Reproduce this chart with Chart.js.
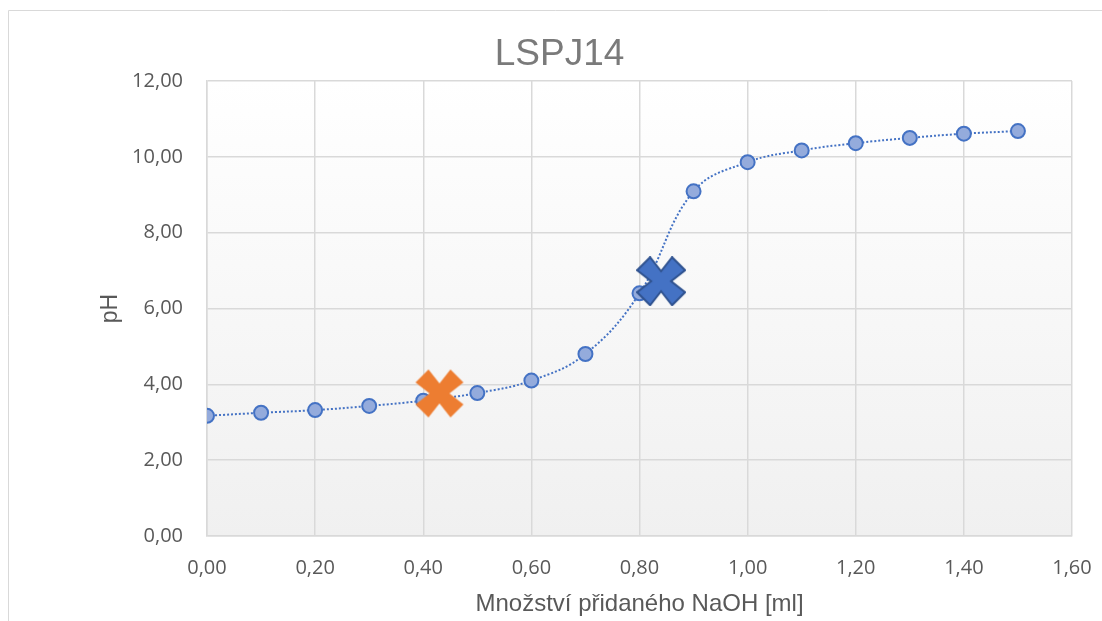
<!DOCTYPE html>
<html>
<head>
<meta charset="utf-8">
<title>LSPJ14</title>
<script src="https://cdn.jsdelivr.net/npm/chart.js@4/dist/chart.umd.min.js"></script>
<style>
    html, body { margin: 0; padding: 0; background: #fff; }
    canvas { display: block; }
</style>
</head>
<body>
<canvas id="titrationChart" width="1102" height="621"></canvas>
<script>
// Titration data: added NaOH [ml] vs pH
const naohVolume = [0.0, 0.1, 0.2, 0.3, 0.4, 0.5, 0.6, 0.7, 0.8, 0.9, 1.0, 1.1, 1.2, 1.3, 1.4, 1.5];
const phValues   = [3.17, 3.25, 3.32, 3.43, 3.57, 3.77, 4.10, 4.80, 6.40, 9.09, 9.86, 10.17, 10.36, 10.50, 10.61, 10.68];

// Highlighted points (half-equivalence and equivalence)
const halfEqPoint = { x: 0.43, y: 3.76 };
const eqPoint     = { x: 0.84, y: 6.72 };

const xTicks = [0, 0.2, 0.4, 0.6, 0.8, 1.0, 1.2, 1.4, 1.6];
const yTicks = [0, 2, 4, 6, 8, 10, 12];

const chartTitle = 'LSPJ14';

const fmt = v => Number(v).toFixed(2).replace('.', ',');
const TICK_FONT = '"Open Sans", "DejaVu Sans", sans-serif';
const TEXT_FONT = '"Liberation Sans", Arial, sans-serif';

// Thick filled X marker like the Excel one
function makeCross(fill, stroke) {
    const s = 50, m = 1, w = s - 2 * m, a = 13, n = 14;
    const c = document.createElement('canvas');
    c.width = s; c.height = s;
    const g = c.getContext('2d');
    const p = [[0, a], [a, 0], [w / 2, n], [w - a, 0], [w, a], [w - n, w / 2],
               [w, w - a], [w - a, w], [w / 2, w - n], [a, w], [0, w - a], [n, w / 2]];
    g.beginPath();
    p.forEach(([x, y], i) => i ? g.lineTo(x + m, y + m) : g.moveTo(x + m, y + m));
    g.closePath();
    g.fillStyle = fill;
    g.fill();
    if (stroke) {
        g.lineWidth = 2;
        g.strokeStyle = stroke;
        g.stroke();
    }
    return c;
}

// Frame, plot background gradient and the chart title
const backgroundPlugin = {
    id: 'backgroundPlugin',
    beforeDraw(chart) {
        const { ctx, chartArea: a } = chart;
        ctx.save();
        ctx.strokeStyle = '#d9d9d9';
        ctx.lineWidth = 1;
        ctx.beginPath();
        ctx.moveTo(8.5, 621);
        ctx.lineTo(8.5, 10.5);
        ctx.lineTo(1102, 10.5);
        ctx.stroke();
        const grad = ctx.createLinearGradient(0, a.top, 0, a.bottom);
        grad.addColorStop(0, '#ffffff');
        grad.addColorStop(1, '#f0f0f0');
        ctx.fillStyle = grad;
        ctx.fillRect(a.left, a.top, a.right - a.left, a.bottom - a.top);

        ctx.fillStyle = '#7a7a7a';
        ctx.font = '37px ' + TEXT_FONT;
        ctx.textAlign = 'center';
        ctx.textBaseline = 'alphabetic';
        ctx.fillText(chartTitle, 559.5, 65);
        ctx.restore();
    }
};

const ctx = document.getElementById('titrationChart').getContext('2d');
const chart = new Chart(ctx, {
    type: 'scatter',
    data: {
        datasets: [
            {
                label: 'eq',
                data: [eqPoint],
                pointStyle: makeCross('#4472c4', '#2f528f'),
                showLine: false
            },
            {
                label: 'half-eq',
                data: [halfEqPoint],
                pointStyle: makeCross('#ed7d31', null),
                showLine: false
            },
            {
                label: 'pH',
                data: naohVolume.map((v, i) => ({ x: v, y: phValues[i] })),
                showLine: true,
                borderColor: '#4472c4',
                borderWidth: 2,
                borderDash: [2, 2],
                tension: 0.4,
                pointRadius: 7,
                pointBorderWidth: 2,
                pointBackgroundColor: '#94abdc',
                pointBorderColor: '#4472c4'
            }
        ]
    },
    options: {
        responsive: false,
        animation: false,
        layout: { padding: { left: 8, right: 30, top: 81, bottom: 0 } },
        plugins: {
            legend: { display: false },
            tooltip: { enabled: false },
            title: { display: false }
        },
        scales: {
            x: {
                type: 'linear',
                min: 0,
                max: 1.6,
                afterBuildTicks: scale => { scale.ticks = xTicks.map(v => ({ value: v })); },
                afterFit: scale => { scale.height = 85; },
                // invisible tick marks push the labels down without widening the side padding
                grid: { color: '#d9d9d9', lineWidth: 1.5, drawTicks: true, tickLength: 13, tickColor: 'rgba(0,0,0,0)' },
                border: { color: '#d9d9d9', width: 1.5 },
                ticks: {
                    color: '#595959',
                    padding: 7,
                    font: { family: TICK_FONT, size: 20 },
                    callback: v => fmt(v)
                },
                title: {
                    display: true,
                    text: 'Množství přidaného NaOH [ml]',
                    color: '#595959',
                    font: { family: TEXT_FONT, size: 24 },
                    padding: { top: 0, bottom: 2 }
                }
            },
            y: {
                min: 0,
                max: 12,
                afterBuildTicks: scale => { scale.ticks = yTicks.map(v => ({ value: v })); },
                afterFit: scale => { scale.width = 199; },
                grid: { color: '#d9d9d9', lineWidth: 1.5, drawTicks: false },
                border: { color: '#d9d9d9', width: 1.5 },
                ticks: {
                    color: '#595959',
                    padding: 24,
                    font: { family: TICK_FONT, size: 20 },
                    callback: v => fmt(v)
                },
                title: {
                    display: true,
                    text: 'pH',
                    color: '#595959',
                    font: { family: TEXT_FONT, size: 23 },
                    padding: { top: 89, bottom: 0 }
                }
            }
        }
    },
    plugins: [backgroundPlugin]
});
</script>
</body>
</html>
